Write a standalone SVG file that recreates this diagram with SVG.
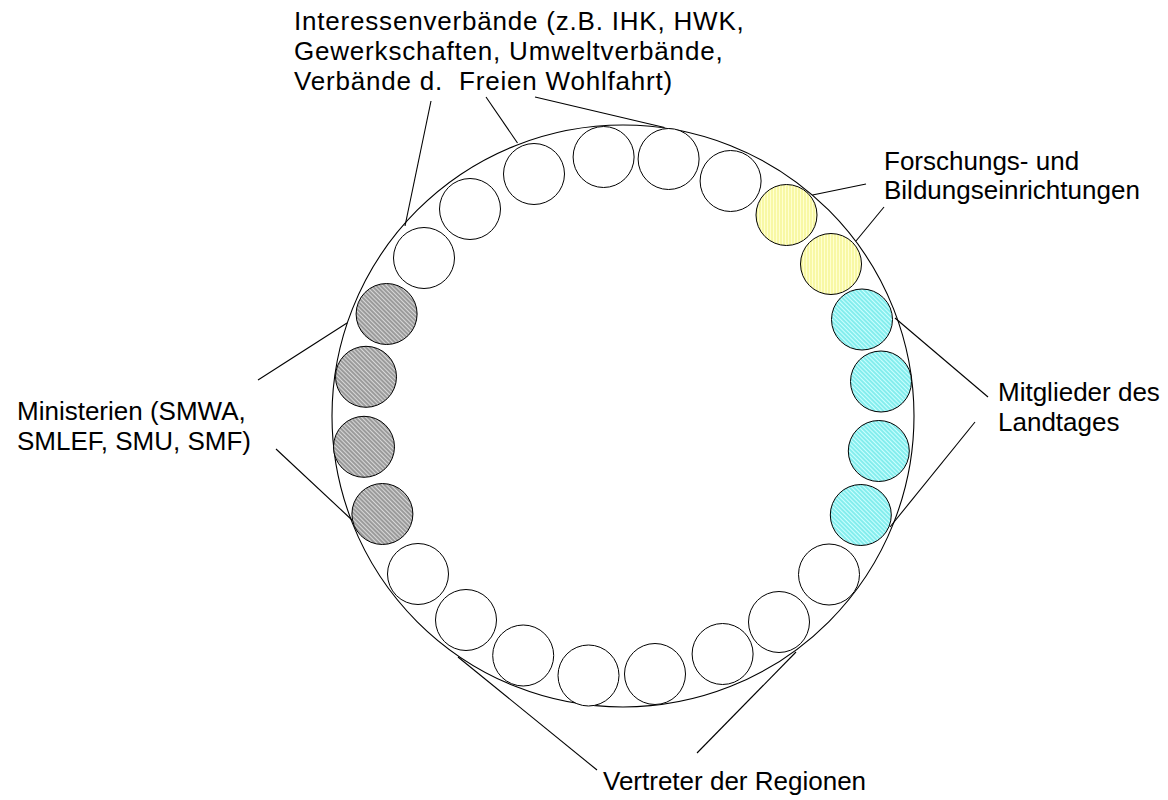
<svg xmlns="http://www.w3.org/2000/svg" width="1168" height="800" viewBox="0 0 1168 800">
<style>
.lbl{font-family:"Liberation Sans",Arial,sans-serif;font-size:26px;fill:#000;white-space:pre}
.wide{letter-spacing:0.8px}
.ring{fill:none;stroke:#000;stroke-width:1.1}
.c{stroke:#000;stroke-width:1}
.w{fill:#fff}
.g{fill:url(#hGray)}
.y{fill:url(#hYellow)}
.b{fill:url(#hCyan)}
.ln{stroke:#000;stroke-width:1.1;fill:none}
</style>
<defs>
<pattern id="hGray" width="3" height="3" patternUnits="userSpaceOnUse" patternTransform="rotate(-45)"><rect width="3" height="3" fill="#d8d8d8"/><line x1="1" y1="0" x2="1" y2="3" stroke="#5e5e5e" stroke-width="1"/></pattern>
<pattern id="hYellow" width="3" height="3" patternUnits="userSpaceOnUse"><rect width="3" height="3" fill="#ffffd0"/><line x1="1" y1="0" x2="1" y2="3" stroke="#f2f27a" stroke-width="1"/></pattern>
<pattern id="hCyan" width="3" height="3" patternUnits="userSpaceOnUse" patternTransform="rotate(-45)"><rect width="3" height="3" fill="#ccffff"/><line x1="1" y1="0" x2="1" y2="3" stroke="#3ddcdc" stroke-width="1"/></pattern>
</defs>
<rect width="1168" height="800" fill="#fff"/>
<g id="ring"><circle class="ring" cx="623" cy="416" r="291"/></g>
<g id="members">
<g id="m1"><circle class="c w" cx="424" cy="258" r="30.5"/></g>
<g id="m2"><circle class="c w" cx="470" cy="209" r="30.5"/></g>
<g id="m3"><circle class="c w" cx="534" cy="174" r="30.5"/></g>
<g id="m4"><circle class="c w" cx="603.6" cy="157" r="30.5"/></g>
<g id="m5"><circle class="c w" cx="668.6" cy="159" r="30.5"/></g>
<g id="m6"><circle class="c w" cx="730.6" cy="181" r="30.5"/></g>
<g id="m7"><circle class="c y" cx="786.5" cy="215" r="30.5"/></g>
<g id="m8"><circle class="c y" cx="831" cy="264" r="30.5"/></g>
<g id="m9"><circle class="c b" cx="862" cy="319.5" r="30.5"/></g>
<g id="m10"><circle class="c b" cx="881" cy="381.5" r="30.5"/></g>
<g id="m11"><circle class="c b" cx="878.8" cy="451" r="30.5"/></g>
<g id="m12"><circle class="c b" cx="860.8" cy="515" r="30.5"/></g>
<g id="m13"><circle class="c w" cx="829" cy="574.5" r="30.5"/></g>
<g id="m14"><circle class="c w" cx="779" cy="622" r="30.5"/></g>
<g id="m15"><circle class="c w" cx="722.6" cy="654" r="30.5"/></g>
<g id="m16"><circle class="c w" cx="655" cy="674" r="30.5"/></g>
<g id="m17"><circle class="c w" cx="588.5" cy="675.5" r="30.5"/></g>
<g id="m18"><circle class="c w" cx="523.2" cy="655.5" r="30.5"/></g>
<g id="m19"><circle class="c w" cx="466" cy="620" r="30.5"/></g>
<g id="m20"><circle class="c w" cx="418" cy="574" r="30.5"/></g>
<g id="m21"><circle class="c g" cx="382.4" cy="514" r="30.5"/></g>
<g id="m22"><circle class="c g" cx="364" cy="446.8" r="30.5"/></g>
<g id="m23"><circle class="c g" cx="366" cy="376.8" r="30.5"/></g>
<g id="m24"><circle class="c g" cx="386.6" cy="314" r="30.5"/></g>
</g>
<g id="connectors">
<line class="ln" x1="431" y1="101" x2="405" y2="226"/>
<line class="ln" x1="486" y1="97" x2="517.5" y2="143"/>
<line class="ln" x1="535" y1="97" x2="664.5" y2="127.5"/>
<line class="ln" x1="866" y1="184" x2="812.5" y2="195"/>
<line class="ln" x1="884" y1="207" x2="856" y2="241"/>
<line class="ln" x1="988" y1="397" x2="895" y2="318"/>
<line class="ln" x1="975" y1="422" x2="890" y2="527"/>
<line class="ln" x1="258" y1="380" x2="347" y2="323"/>
<line class="ln" x1="276" y1="449" x2="352" y2="520"/>
<line class="ln" x1="597" y1="770" x2="458" y2="657"/>
<line class="ln" x1="697" y1="753" x2="796" y2="652"/>
</g>
<g id="label-interessen"><text class="lbl wide" x="294" y="30">Interessenverbände (z.B. IHK, HWK,</text><text class="lbl wide" x="294" y="60">Gewerkschaften, Umweltverbände,</text><text class="lbl wide" x="294" y="90">Verbände d.  Freien Wohlfahrt)</text></g>
<g id="label-forschung"><text class="lbl" x="884" y="170">Forschungs- und</text><text class="lbl" x="884" y="199">Bildungseinrichtungen</text></g>
<g id="label-landtag"><text class="lbl" x="998" y="401">Mitglieder des</text><text class="lbl" x="998" y="431">Landtages</text></g>
<g id="label-ministerien"><text class="lbl" x="17" y="420">Ministerien (SMWA,</text><text class="lbl" x="17" y="450">SMLEF, SMU, SMF)</text></g>
<g id="label-regionen"><text class="lbl" x="603" y="790">Vertreter der Regionen</text></g>
</svg>
